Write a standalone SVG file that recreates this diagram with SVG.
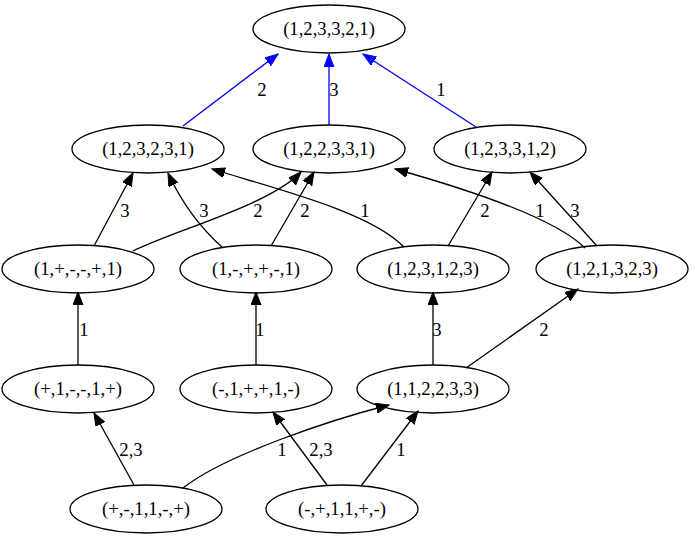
<svg xmlns="http://www.w3.org/2000/svg" width="695" height="539" viewBox="0 0 695 539">
<style>
.n ellipse{fill:none;stroke:#000;stroke-width:1.3}
text{font-family:"Liberation Serif","Times New Roman",serif;font-size:18.67px;fill:#000}
.n text{text-anchor:middle}
.e path{fill:none;stroke:#000;stroke-width:1.3}
.e path.b{stroke:#0000ff}
.e text{text-anchor:middle}
</style>
<defs>
<marker id="ak" markerUnits="userSpaceOnUse" markerWidth="16" markerHeight="12" refX="13" refY="5" orient="auto"><path d="M0,0 L13,5 L0,10 Z" fill="#000" stroke="#000" stroke-width="1"/></marker>
<marker id="ab" markerUnits="userSpaceOnUse" markerWidth="16" markerHeight="12" refX="13" refY="5" orient="auto"><path d="M0,0 L13,5 L0,10 Z" fill="#0000ff" stroke="#0000ff" stroke-width="1"/></marker>
</defs>
<rect width="695" height="539" fill="#fff"/>
<g id="edges" class="e">
<path class="b" d="M183,126 L278,54" marker-end="url(#ab)"/>
<text x="262" y="96">2</text>
<path class="b" d="M329,125 L329,54" marker-end="url(#ab)"/>
<text x="334" y="96">3</text>
<path class="b" d="M476,127 L363,54" marker-end="url(#ab)"/>
<text x="441" y="96">1</text>
<path d="M94,246 L133,173" marker-end="url(#ak)"/>
<text x="125" y="217">3</text>
<path d="M223,248 C205,232 185,210 168,173" marker-end="url(#ak)"/>
<text x="204" y="217">3</text>
<path d="M133,251 C175,230 270,205 301,172" marker-end="url(#ak)"/>
<text x="258" y="217">2</text>
<path d="M271,246 L314,172" marker-end="url(#ak)"/>
<text x="305" y="217">2</text>
<path d="M404,247 C370,212 280,190 212,169" marker-end="url(#ak)"/>
<text x="365" y="217">1</text>
<path d="M448,246 L492,172" marker-end="url(#ak)"/>
<text x="485" y="217">2</text>
<path d="M585,248 C555,218 470,190 395,169" marker-end="url(#ak)"/>
<text x="540" y="217">1</text>
<path d="M597,246 L530,172" marker-end="url(#ak)"/>
<text x="575" y="217">3</text>
<path d="M78,365 L78,292" marker-end="url(#ak)"/>
<text x="84" y="336">1</text>
<path d="M256,365 L256,292" marker-end="url(#ak)"/>
<text x="260" y="336">1</text>
<path d="M433,365 L433,292" marker-end="url(#ak)"/>
<text x="437" y="336">3</text>
<path d="M466,368 L578,289" marker-end="url(#ak)"/>
<text x="544" y="336">2</text>
<path d="M134,485 L94,413" marker-end="url(#ak)"/>
<text x="131" y="456">2,3</text>
<path d="M183,488 C225,455 330,420 389,405" marker-end="url(#ak)"/>
<text x="282" y="456">1</text>
<path d="M327,485 L273,412" marker-end="url(#ak)"/>
<text x="321" y="456">2,3</text>
<path d="M361,486 L418,411" marker-end="url(#ak)"/>
<text x="401" y="456">1</text>
</g>
<g id="n_123321" class="n"><ellipse cx="329" cy="29" rx="76" ry="24"/><text x="329" y="35">(1,2,3,3,2,1)</text></g>
<g id="n_123231" class="n"><ellipse cx="148" cy="149" rx="76" ry="24"/><text x="148" y="155">(1,2,3,2,3,1)</text></g>
<g id="n_122331" class="n"><ellipse cx="329" cy="149" rx="76" ry="24"/><text x="329" y="155">(1,2,2,3,3,1)</text></g>
<g id="n_123312" class="n"><ellipse cx="510" cy="149" rx="76" ry="24"/><text x="510" y="155">(1,2,3,3,1,2)</text></g>
<g id="n_1pmmp1" class="n"><ellipse cx="78" cy="269" rx="76" ry="24"/><text x="78" y="275">(1,+,-,-,+,1)</text></g>
<g id="n_1mppm1" class="n"><ellipse cx="256" cy="269" rx="76" ry="24"/><text x="256" y="275">(1,-,+,+,-,1)</text></g>
<g id="n_123123" class="n"><ellipse cx="433" cy="269" rx="76" ry="24"/><text x="433" y="275">(1,2,3,1,2,3)</text></g>
<g id="n_121323" class="n"><ellipse cx="612" cy="269" rx="76" ry="24"/><text x="612" y="275">(1,2,1,3,2,3)</text></g>
<g id="n_p1mm1p" class="n"><ellipse cx="78" cy="389" rx="76" ry="24"/><text x="78" y="395">(+,1,-,-,1,+)</text></g>
<g id="n_m1pp1m" class="n"><ellipse cx="256" cy="389" rx="76" ry="24"/><text x="256" y="395">(-,1,+,+,1,-)</text></g>
<g id="n_112233" class="n"><ellipse cx="433" cy="389" rx="76" ry="24"/><text x="433" y="395">(1,1,2,2,3,3)</text></g>
<g id="n_pm11mp" class="n"><ellipse cx="146" cy="509" rx="76" ry="24"/><text x="146" y="515">(+,-,1,1,-,+)</text></g>
<g id="n_mp11pm" class="n"><ellipse cx="342" cy="509" rx="76" ry="24"/><text x="342" y="515">(-,+,1,1,+,-)</text></g>
</svg>
